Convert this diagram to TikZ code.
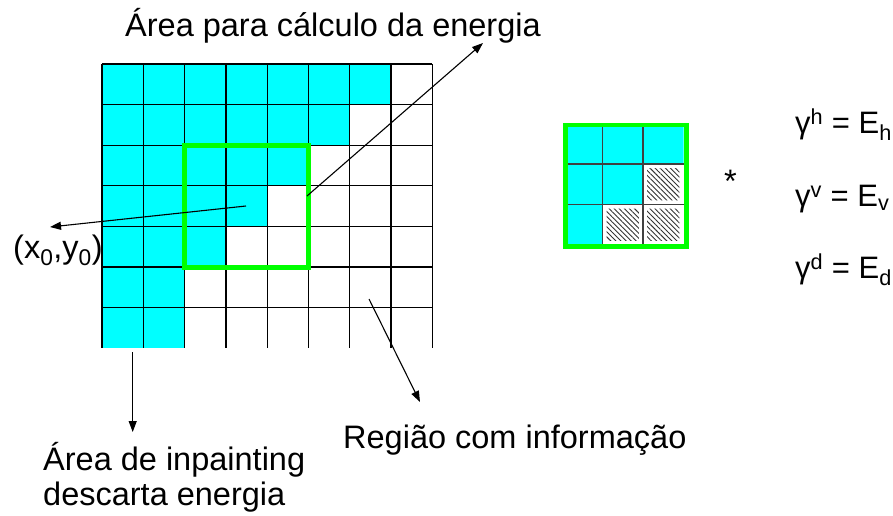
\documentclass[tikz,border=0pt]{standalone}
\usepackage{fontspec}
\setmainfont{Liberation Sans}
\usetikzlibrary{arrows.meta,patterns.meta}
\definecolor{aqua}{RGB}{0,255,255}
\definecolor{lime}{RGB}{0,255,0}
\tikzstyle{every node}=[inner sep=0pt,anchor=base west,font=\fontsize{32.5}{35}\selectfont]
\tikzstyle{formula}=[font=\fontsize{31}{35}\selectfont]
\tikzstyle{cell}=[fill=aqua]
\tikzstyle{hatched}=[pattern={Lines[angle=-45,distance=3.6pt,line width=0.9pt]},pattern color=black!80]
\tikzstyle{gridline}=[line width=1.3pt]
\tikzstyle{window}=[draw=lime,line width=5pt]
\tikzstyle{pointer}=[-{Triangle[length=11pt,width=8pt]},line width=1.1pt]

\begin{document}
\begin{tikzpicture}[x=1pt,y=-1pt]
      \fill[white] (0,0) rectangle (893,516);
      \useasboundingbox (0,0) rectangle (893,516);
      \begin{scope}[shift={(102,64)},x=41.3pt,y=-40.6pt]
        \foreach \r/\n in {0/7,1/6,2/5,3/4,4/3,5/2,6/2}
          \fill[cell] (0,\r) rectangle (\n,\r+1);
        \foreach \r in {0,...,6}
          \draw[gridline] (0,\r) -- (8,\r);
        \foreach \c in {0,...,8}
          \draw[gridline] (\c,0) -- (\c,7);
        \draw[window] (2,2) rectangle (5,5);
      \end{scope}
      \begin{scope}
        \clip (565.7,125) rectangle (686.7,246.7);
        \begin{scope}[shift={(562,123.5)},x=40.5pt,y=-40.5pt]
          \fill[cell] (0,0) rectangle (3,1) (0,1) rectangle (2,2) (0,2) rectangle (1,3);
          \fill[white] (2,1) rectangle (3,2) (1,2) rectangle (3,3);
          \fill[hatched] (2.1,1.1) rectangle (2.9,1.9) (1.1,2.1) rectangle (1.9,2.9) (2.1,2.1) rectangle (2.9,2.9);
          \draw[gridline,black!75] (1,0) -- (1,3) (2,0) -- (2,3) (0,1) -- (3,1) (0,2) -- (3,2);
        \end{scope}
      \end{scope}
      \draw[window,line width=4.5pt] (565.7,125) rectangle (686.7,246.7);
      \coordinate (winedge) at (307,196);
      \coordinate (seed) at (246,206);
      \coordinate (hole) at (132.7,352);
      \coordinate (known) at (369,299);
      \node (energia) at (125,37) {Área para cálculo da energia};
      \node (xy) at (13,258) {(x\textsubscript{0},y\textsubscript{0})};
      \node[align=left] (inpaint) at (43,505) {Área de inpainting\\descarta energia};
      \node (regiao) at (343,448) {Região com informação};
      \node (star) at (724,192) {*};
      \node[formula] (gh) at (795,133.3) {γ\textsuperscript{h} = E\textsubscript{h}};
      \node[formula] (gv) at (795,206.7) {γ\textsuperscript{v} = E\textsubscript{v}};
      \node[formula] (gd) at (795,278.3) {γ\textsuperscript{d} = E\textsubscript{d}};
      \draw[pointer] (winedge) -- ([xshift=358pt,yshift=-6pt]energia.base west);
      \draw[pointer] (seed) -- ([xshift=37pt,yshift=31pt]xy.base west);
      \draw[pointer] (hole) -- ([xshift=89.7pt,yshift=73pt]inpaint.base west);
      \draw[pointer] (known) -- ([xshift=77pt,yshift=46pt]regiao.base west);
\end{tikzpicture}
\end{document}
